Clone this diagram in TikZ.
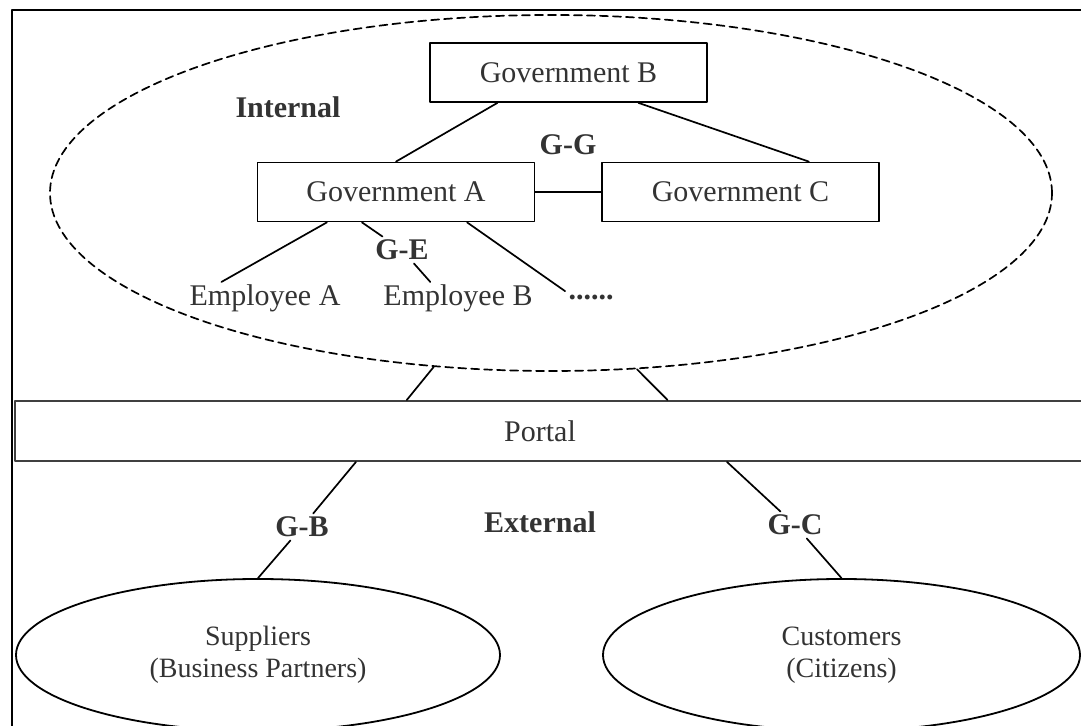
\documentclass[tikz,border=0pt]{standalone}
\usepackage{fontspec}
\setmainfont{Liberation Serif}
\usetikzlibrary{shapes.geometric,calc}
\definecolor{ink}{HTML}{333333}
\tikzset{
  every picture/.style={line join=round, line cap=round},
  govbox/.style={draw, line width=0.9pt, minimum width=138.5pt, minimum height=29.5pt, inner sep=0pt, font=\fontsize{15}{18}\selectfont, text=ink},
  lbl/.style={font=\fontsize{15}{18}\selectfont\bfseries, text=ink, inner sep=1.5pt},
  txt/.style={font=\fontsize{15}{18}\selectfont, text=ink, inner sep=1pt},
  link/.style={line width=0.85pt},
  party/.style={draw, ellipse, line width=0.9pt, minimum height=76pt, inner sep=0pt, align=center, font=\fontsize{14}{16}\selectfont, text=ink},
}
\begin{document}
\begin{tikzpicture}[x=0.5pt,y=-0.5pt]
\useasboundingbox (0,0) rectangle (1081,726);
\clip (0,0) rectangle (1081,726);
\draw[line width=1.3pt] (12,760) |- (1100,10);
\node[draw, ellipse, dash pattern=on 4pt off 2.5pt, line width=0.85pt, minimum width=501pt, minimum height=178pt, inner sep=0pt] (internal) at (551,193) {};
\node[govbox] (govB) at (568.5,72.5) {Government B};
\node[govbox] (govA) at (396,192) {Government A};
\node[govbox] (govC) at (740.5,192) {Government C};
\node[lbl] (intlbl) at (288,107) {Internal};
\node[lbl] (gg) at (568,145) {G-G};
\node[lbl] (ge) at (402,250) {G-E};
\node[txt] (empA) at (265,298) {Employee A};
\node[txt] (empB) at (458,298) {Employee B};
\node[lbl] (dots) at (591,297) {......};
\draw[link] ($(govB.south west)!0.245!(govB.south east)$) -- (govA.north);
\draw[link] ($(govB.south west)!0.751!(govB.south east)$) -- ($(govC.north west)!0.745!(govC.north east)$);
\draw[link] (govA.east) -- (govC.west);
\draw[link] ($(govA.south west)!0.252!(govA.south east)$) -- ($(empA.north west)!0.22!(empA.north east)$);
\draw[link] ($(govA.south west)!0.378!(govA.south east)$) -- (ge) -- ($(empB.north west)!0.32!(empB.north east)$);
\draw[link] ($(govA.south west)!0.755!(govA.south east)$) -- (dots.north west);
\node[draw, line width=1pt, black!75, minimum width=540pt, minimum height=30pt, inner sep=0pt] (portal) at (555,431) {};
\node[txt] (portaltxt) at (540,431) {Portal};
\draw[link] (internal.-124) -- ($(portal.north west)!0.363!(portal.north east)$);
\draw[link] (internal.-64) -- ($(portal.north west)!0.604!(portal.north east)$);
\node[lbl] (extlbl) at (540,522) {External};
\node[lbl] (gb) at (302,527) {G-B};
\node[lbl] (gc) at (795,525) {G-C};
\node[party, minimum width=242pt] (sup) at (258,655) {Suppliers\\(Business Partners)};
\node[party, minimum width=238.5pt] (cus) at (841.5,655) {Customers\\(Citizens)};
\draw[link] ($(portal.south west)!0.316!(portal.south east)$) -- (gb) -- (sup.north);
\draw[link] ($(portal.south west)!0.659!(portal.south east)$) -- (gc) -- (cus.north);
\end{tikzpicture}
\end{document}
